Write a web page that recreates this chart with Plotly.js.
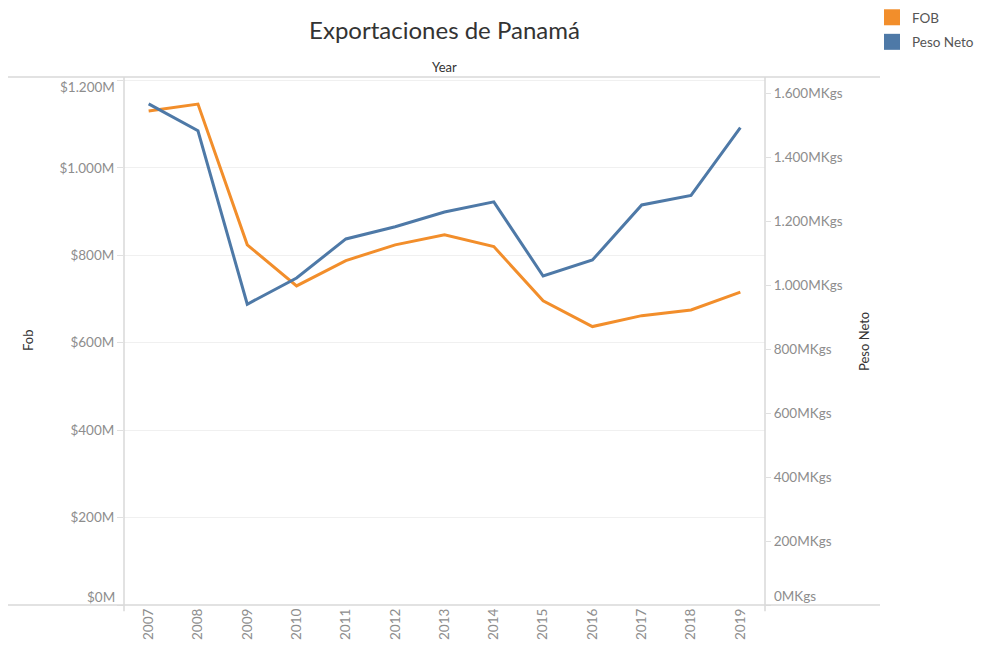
<!DOCTYPE html>
<html>
<head>
<meta charset="utf-8">
<script src="https://cdn.plot.ly/plotly-3.0.1.min.js"></script>
<style>html,body{margin:0;padding:0;background:#fff;}#chart{width:983px;height:645px;}</style>
</head>
<body>
<div id="chart"></div>
<script>
// Data
const years = ["2007","2008","2009","2010","2011","2012","2013","2014","2015","2016","2017","2018","2019"];
const fobMillions = [1130, 1146, 824, 730, 788, 824, 847, 820, 696, 637, 662, 675, 716];
const pesoNetoMKgs = [1566, 1482, 940, 1022, 1144, 1182, 1228, 1260, 1028, 1078, 1250, 1280, 1492];
const fobTickVals = [0, 200, 400, 600, 800, 1000, 1200];
const fobTickText = ["$0M", "$200M", "$400M", "$600M", "$800M", "$1.000M", "$1.200M"];
const pesoTickVals = [0, 200, 400, 600, 800, 1000, 1200, 1400, 1600];
const pesoTickText = ["0MKgs", "200MKgs", "400MKgs", "600MKgs", "800MKgs", "1.000MKgs", "1.200MKgs", "1.400MKgs", "1.600MKgs"];

const orange = "#F28E2B";
const blue = "#4E79A7";
const FONT = "Lato, 'Open Sans', sans-serif";
const tickFont = {family: FONT, size: 13.5, color: "#8d8d8d"};
const W = 983, H = 645, L = 124, R = 765, T = 77, B = 605;
const pw = R - L;
const px = v => (v - L) / pw;

// Tableau keeps the outermost labels inside the plot: draw those as shifted annotations
const nF = fobTickText.length, nP = pesoTickText.length;
const fobShown = fobTickText.map((t, i) => (i === 0 || i === nF - 1) ? "" : t);
const pesoShown = pesoTickText.map((t, i) => (i === 0) ? "" : t);

const traces = [
  {x: years, y: fobMillions, type: "scatter", mode: "lines", name: "FOB",
   line: {color: orange, width: 3}, yaxis: "y", showlegend: false, hoverinfo: "x+y"},
  {x: years, y: pesoNetoMKgs, type: "scatter", mode: "lines", name: "Peso Neto",
   line: {color: blue, width: 3}, yaxis: "y2", showlegend: false, hoverinfo: "x+y"},
  {x: [null], y: [null], type: "scatter", mode: "markers", name: "FOB", legendgroup: "a",
   marker: {symbol: "square", size: 16, color: orange}, showlegend: true},
  {x: [null], y: [null], type: "scatter", mode: "markers", name: "Peso Neto", legendgroup: "b",
   marker: {symbol: "square", size: 16, color: blue}, yaxis: "y2", showlegend: true}
];

const edgeLabel = (text, yref, yval, side, shift) => ({
  text: text, xref: "paper", yref: yref, x: side === "left" ? px(117) : px(772), y: yval,
  xanchor: side === "left" ? "right" : "left", yanchor: "middle", yshift: shift,
  showarrow: false, font: tickFont
});

const layout = {
  width: W, height: H,
  margin: {l: L, r: W - R, t: T, b: H - B, autoexpand: false},
  paper_bgcolor: "#fff", plot_bgcolor: "#fff",
  font: {family: FONT, color: "#333"},
  title: {text: "Exportaciones de Panamá", x: 0.5, xref: "paper", y: 1 - 31 / H, yref: "container",
          xanchor: "center", yanchor: "middle",
          font: {family: FONT, size: 24, color: "#333"}},
  showlegend: true,
  legend: {xref: "container", yref: "container", x: 872 / W, xanchor: "left", y: 1 - 2 / H, yanchor: "top",
           font: {family: FONT, size: 13.5, color: "#555"},
           itemwidth: 30, tracegroupgap: 4, bgcolor: "rgba(0,0,0,0)"},
  xaxis: {type: "category", range: [-0.5, 12.5], tickangle: -90, tickfont: tickFont,
          showgrid: false, zeroline: false, showline: false, ticks: "", fixedrange: true},
  yaxis: {range: [0, 1208], tickvals: fobTickVals, ticktext: fobShown, tickfont: tickFont,
          showgrid: true, gridcolor: "#f0f0f0", gridwidth: 1, zeroline: false,
          ticks: "outside", ticklen: 6, tickcolor: "#e0e0e0", showline: false},
  yaxis2: {range: [0, 1650], tickvals: pesoTickVals, ticktext: pesoShown, tickfont: tickFont,
           overlaying: "y", side: "right", showgrid: false, zeroline: false,
           ticks: "outside", ticklen: 5, tickcolor: "#e0e0e0", showline: false},
  shapes: [
    {type: "line", xref: "paper", yref: "paper", x0: px(8), x1: px(880), y0: 1, y1: 1,
     line: {color: "#d9d9d9", width: 1.5}},
    {type: "line", xref: "paper", yref: "paper", x0: px(8), x1: px(880), y0: 0, y1: 0,
     line: {color: "#d9d9d9", width: 1.5}},
    {type: "line", xref: "paper", yref: "paper", x0: 0, x1: 0, y0: -0.012, y1: 1,
     line: {color: "#d9d9d9", width: 1.5}},
    {type: "line", xref: "paper", yref: "paper", x0: 1, x1: 1, y0: -0.012, y1: 1,
     line: {color: "#d9d9d9", width: 1.5}}
  ],
  annotations: [
    {text: "Year", xref: "paper", yref: "paper", x: 0.5, y: 1.019, xanchor: "center", yanchor: "middle",
     showarrow: false, font: {family: FONT, size: 13, color: "#333"}},
    {text: "Fob", xref: "paper", yref: "paper", x: px(28), y: 0.5, xanchor: "center", yanchor: "middle",
     textangle: -90, showarrow: false, font: {family: FONT, size: 13, color: "#333"}},
    {text: "Peso Neto", xref: "paper", yref: "paper", x: px(864), y: 0.5, xanchor: "center", yanchor: "middle",
     textangle: -90, showarrow: false, font: {family: FONT, size: 13, color: "#333"}},
    edgeLabel(fobTickText[nF - 1], "y", fobTickVals[nF - 1], "left", -6),
    edgeLabel(fobTickText[0], "y", fobTickVals[0], "left", 8),
    edgeLabel(pesoTickText[0], "y2", pesoTickVals[0], "right", 9)
  ]
};

Plotly.newPlot("chart", traces, layout, {displayModeBar: false, responsive: false});
</script>
</body>
</html>
